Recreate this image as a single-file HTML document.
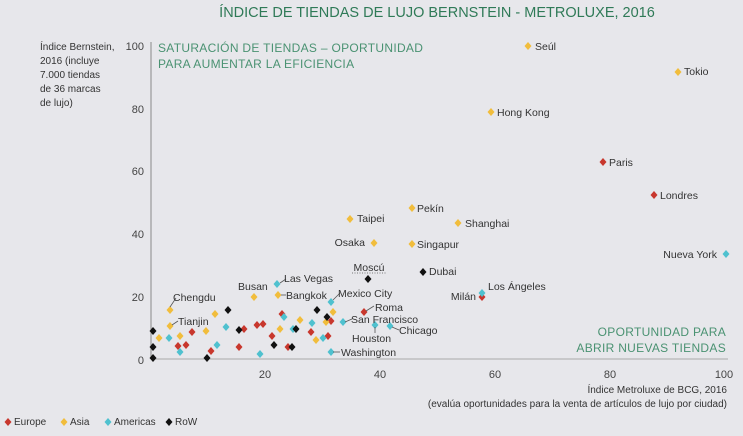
<!DOCTYPE html>
<html><head><meta charset="utf-8"><style>
body{margin:0;background:#e7e7eb;}
svg{display:block;font-family:"Liberation Sans",sans-serif;}
text{fill:#333;font-size:10.5px;}
.ax{fill:#444;font-size:11px;}
.g{fill:#4a9272;font-size:12px;letter-spacing:0.3px;}
</style></head><body>
<svg width="743" height="436" viewBox="0 0 743 436">
<rect width="743" height="436" fill="#e7e7eb"/>
<text x="437" y="17" text-anchor="middle" style="fill:#2f7a57;font-size:14.5px">ÍNDICE DE TIENDAS DE LUJO BERNSTEIN - METROLUXE, 2016</text>
<line x1="151" y1="42" x2="151" y2="359" stroke="#888" stroke-width="1"/>
<line x1="151" y1="359" x2="728" y2="359" stroke="#aaa" stroke-width="1"/>
<g class="ax">
<text x="40" y="50" style="font-size:10px">Índice Bernstein,</text>
<text x="40" y="64" style="font-size:10px">2016 (incluye</text>
<text x="40" y="78" style="font-size:10px">7.000 tiendas</text>
<text x="40" y="92" style="font-size:10px">de 36 marcas</text>
<text x="40" y="106" style="font-size:10px">de lujo)</text>
<text x="144" y="50" text-anchor="end" class="ax">100</text>
<text x="144" y="113" text-anchor="end" class="ax">80</text>
<text x="144" y="175" text-anchor="end" class="ax">60</text>
<text x="144" y="238" text-anchor="end" class="ax">40</text>
<text x="144" y="301" text-anchor="end" class="ax">20</text>
<text x="144" y="364" text-anchor="end" class="ax">0</text>
<text x="265" y="378" text-anchor="middle" class="ax">20</text>
<text x="380" y="378" text-anchor="middle" class="ax">40</text>
<text x="495" y="378" text-anchor="middle" class="ax">60</text>
<text x="610" y="378" text-anchor="middle" class="ax">80</text>
<text x="724" y="378" text-anchor="middle" class="ax">100</text>
<text x="727" y="393" text-anchor="end" style="font-size:10px">Índice Metroluxe de BCG, 2016</text>
<text x="727" y="407" text-anchor="end" style="font-size:10px">(evalúa oportunidades para la venta de artículos de lujo por ciudad)</text>
</g>
<text x="158" y="52" class="g">SATURACIÓN DE TIENDAS – OPORTUNIDAD</text>
<text x="158" y="68" class="g">PARA AUMENTAR LA EFICIENCIA</text>
<text x="726" y="336" text-anchor="end" class="g">OPORTUNIDAD PARA</text>
<text x="726" y="352" text-anchor="end" class="g">ABRIR NUEVAS TIENDAS</text>
<defs><path id="d" d="M0,-4L3.5,0L0,4L-3.5,0Z"/></defs>
<g fill="#c8372d">
<use href="#d" x="603" y="162"/><use href="#d" x="654" y="195"/><use href="#d" x="364" y="312"/><use href="#d" x="482" y="297"/>
<use href="#d" x="192" y="332"/><use href="#d" x="186" y="345"/><use href="#d" x="211" y="351"/><use href="#d" x="244" y="329"/><use href="#d" x="239" y="347"/><use href="#d" x="257" y="325"/><use href="#d" x="263" y="324"/><use href="#d" x="272" y="336"/><use href="#d" x="282" y="314"/><use href="#d" x="288" y="347"/><use href="#d" x="311" y="332"/><use href="#d" x="328" y="336"/><use href="#d" x="331" y="321"/><use href="#d" x="178" y="346"/>
</g>
<g fill="#f1bd3c">
<use href="#d" x="528" y="46"/><use href="#d" x="678" y="72"/><use href="#d" x="491" y="112"/><use href="#d" x="412" y="208"/><use href="#d" x="458" y="223"/><use href="#d" x="350" y="219"/><use href="#d" x="374" y="243"/><use href="#d" x="412" y="244"/><use href="#d" x="254" y="297"/><use href="#d" x="278" y="295"/><use href="#d" x="170" y="310"/><use href="#d" x="170" y="326"/>
<use href="#d" x="159" y="338"/><use href="#d" x="180" y="336"/><use href="#d" x="206" y="331"/><use href="#d" x="215" y="314"/><use href="#d" x="280" y="329"/><use href="#d" x="300" y="320"/><use href="#d" x="316" y="340"/><use href="#d" x="326" y="322"/><use href="#d" x="333" y="312"/>
</g>
<g fill="#4fc1cf">
<use href="#d" x="726" y="254"/><use href="#d" x="482" y="293"/><use href="#d" x="277" y="284"/><use href="#d" x="331" y="302"/><use href="#d" x="343" y="322"/><use href="#d" x="375" y="325"/><use href="#d" x="390" y="326"/><use href="#d" x="331" y="352"/>
<use href="#d" x="169" y="338"/><use href="#d" x="180" y="352"/><use href="#d" x="217" y="345"/><use href="#d" x="226" y="327"/><use href="#d" x="260" y="354"/><use href="#d" x="284" y="317"/><use href="#d" x="293" y="329"/><use href="#d" x="312" y="323"/><use href="#d" x="323" y="338"/>
</g>
<g fill="#111">
<use href="#d" x="423" y="272"/><use href="#d" x="368" y="279"/><use href="#d" x="153" y="331"/><use href="#d" x="153" y="347"/><use href="#d" x="153" y="358"/><use href="#d" x="207" y="358"/><use href="#d" x="228" y="310"/><use href="#d" x="239" y="330"/><use href="#d" x="274" y="345"/><use href="#d" x="292" y="347"/><use href="#d" x="296" y="329"/><use href="#d" x="317" y="310"/><use href="#d" x="327" y="317"/>
</g>
<g stroke="#555" stroke-width="0.8" fill="none">
<path d="M170,307L176,298"/><path d="M172,325L178,321"/><path d="M280,283L286,279"/><path d="M281,295L286,295"/><path d="M333,300L340,293"/><path d="M366,311L374,306"/><path d="M345,322L352,319"/><path d="M375,327L375,333"/><path d="M392,327L399,330"/><path d="M333,352L340,352"/>
<path d="M352,273L386,273" stroke-dasharray="1,1.5"/>
</g>
<text x="535" y="50">Seúl</text>
<text x="684" y="75">Tokio</text>
<text x="497" y="116">Hong Kong</text>
<text x="609" y="166">Paris</text>
<text x="660" y="199">Londres</text>
<text x="717" y="258" text-anchor="end">Nueva York</text>
<text x="417" y="212">Pekín</text>
<text x="465" y="227">Shanghai</text>
<text x="357" y="222">Taipei</text>
<text x="365" y="246" text-anchor="end">Osaka</text>
<text x="417" y="248">Singapur</text>
<text x="429" y="275">Dubai</text>
<text x="369" y="271" text-anchor="middle">Moscú</text>
<text x="488" y="290">Los Ángeles</text>
<text x="476" y="300" text-anchor="end">Milán</text>
<text x="238" y="290">Busan</text>
<text x="284" y="282">Las Vegas</text>
<text x="286" y="299">Bangkok</text>
<text x="338" y="297">Mexico City</text>
<text x="375" y="311">Roma</text>
<text x="351" y="323">San Francisco</text>
<text x="352" y="342">Houston</text>
<text x="399" y="334">Chicago</text>
<text x="341" y="356">Washington</text>
<text x="173" y="301">Chengdu</text>
<text x="178" y="325">Tianjin</text>
<g style="font-size:10px">
<use href="#d" x="8" y="422" fill="#c8372d"/><text x="14" y="425" style="font-size:10px">Europe</text>
<use href="#d" x="64" y="422" fill="#f1bd3c"/><text x="70" y="425" style="font-size:10px">Asia</text>
<use href="#d" x="108" y="422" fill="#4fc1cf"/><text x="114" y="425" style="font-size:10px">Americas</text>
<use href="#d" x="169" y="422" fill="#111"/><text x="175" y="425" style="font-size:10px">RoW</text>
</g>
</svg>
</body></html>
